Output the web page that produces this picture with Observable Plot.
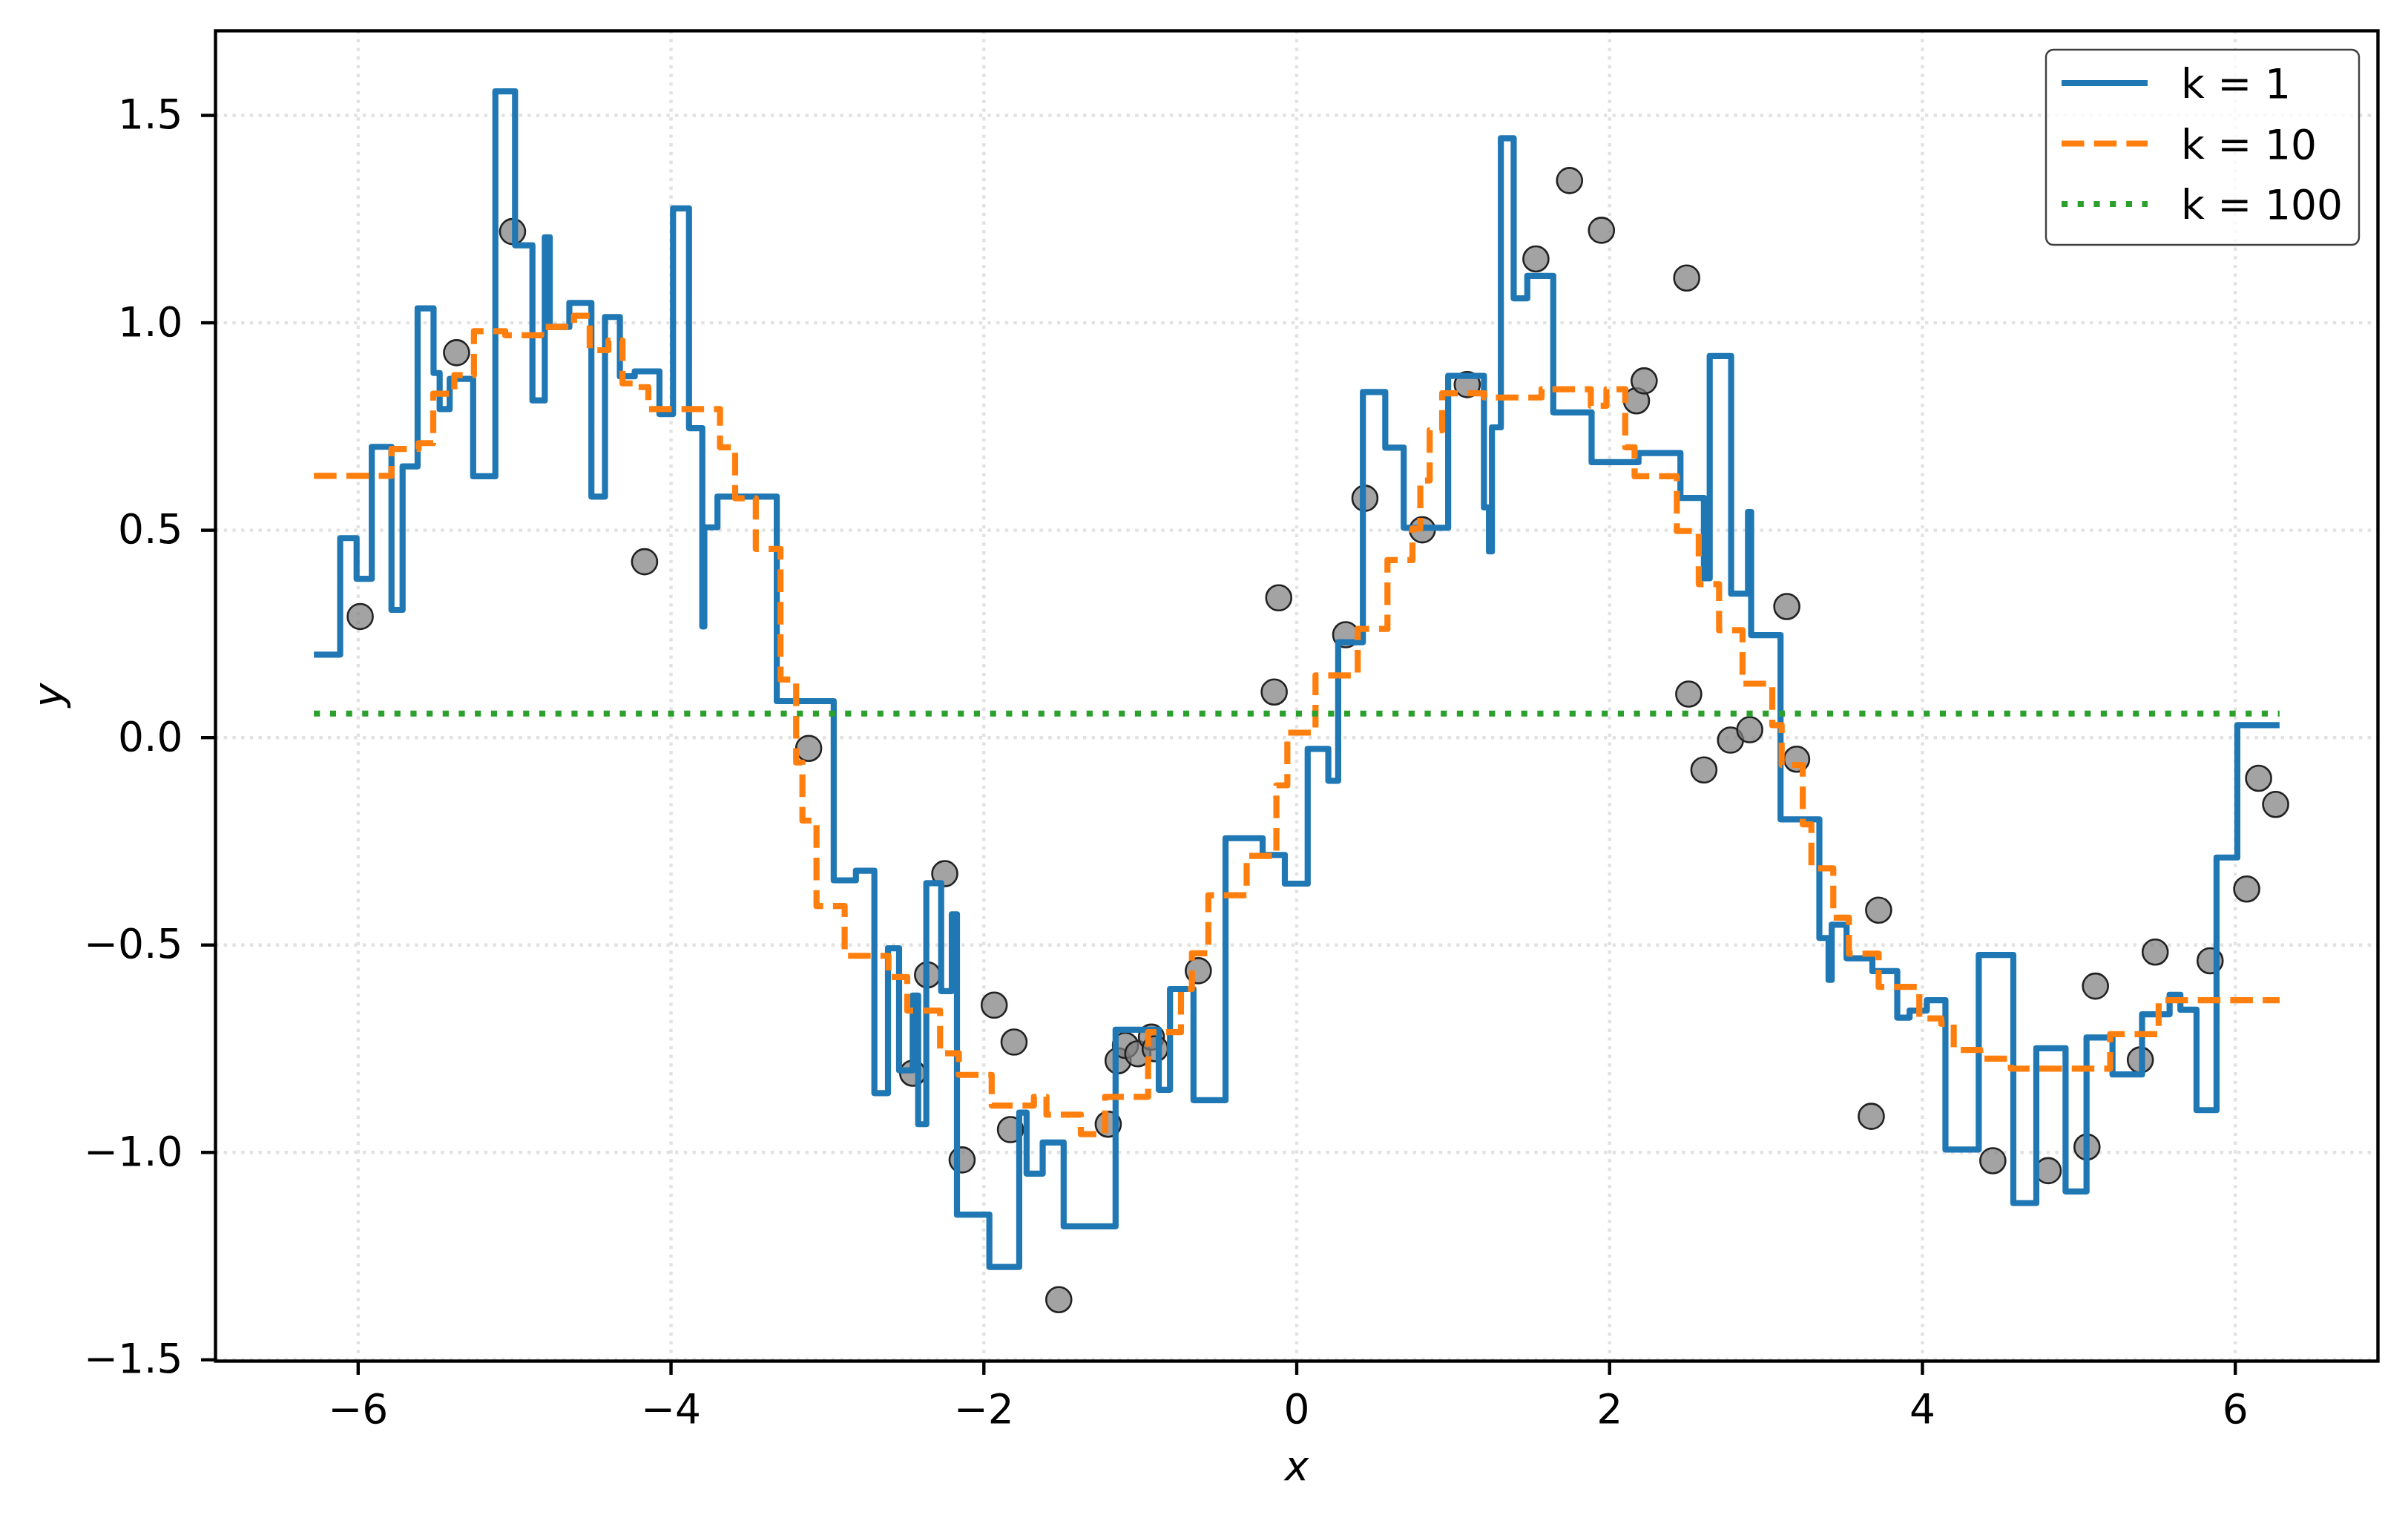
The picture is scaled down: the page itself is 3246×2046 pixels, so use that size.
<!DOCTYPE html>
<html>
<head>
<meta charset="utf-8">
<script src="https://cdn.jsdelivr.net/npm/d3@7"></script>
<script src="https://cdn.jsdelivr.net/npm/@observablehq/plot@0.6"></script>
<style>
  html, body { margin: 0; padding: 0; background: #fff; }
  #chart svg { display: block; }
</style>
</head>
<body>
<div id="chart"></div>
<script>
// ---- data ----
const xTicks = [-6, -4, -2, 0, 2, 4, 6];
const yTicks = [-1.5, -1.0, -0.5, 0.0, 0.5, 1.0, 1.5];
const xEnd = 6.283;

// training points [x, y]
const points = [
  [-5.987,0.292],[-5.371,0.928],[-5.013,1.22],[-4.169,0.424],[-3.12,-0.026],
  [-2.455,-0.809],[-2.36,-0.572],[-2.25,-0.328],[-2.139,-1.018],[-1.934,-0.645],
  [-1.807,-0.734],[-1.83,-0.945],[-1.521,-1.355],[-1.205,-0.932],[-1.142,-0.779],
  [-1.095,-0.742],[-1.016,-0.762],[-0.929,-0.722],[-0.905,-0.75],[-0.629,-0.562],
  [-0.144,0.11],[-0.115,0.337],[0.313,0.248],[0.436,0.577],[0.803,0.501],
  [1.09,0.851],[1.529,1.154],[1.744,1.343],[1.948,1.223],[2.172,0.812],
  [2.221,0.86],[2.493,1.108],[2.506,0.105],[2.603,-0.078],[2.773,-0.006],
  [2.896,0.019],[3.133,0.316],[3.196,-0.052],[3.673,-0.913],[3.72,-0.416],
  [4.45,-1.02],[4.804,-1.044],[5.052,-0.987],[5.106,-0.599],[5.393,-0.777],
  [5.488,-0.517],[5.839,-0.538],[6.073,-0.365],[6.149,-0.098],[6.258,-0.161]
];

// k = 1 prediction: [x where the step starts, value]
const k1Steps = [
  [-6.283,0.20],[-6.115,0.481],[-6.01,0.383],[-5.913,0.701],[-5.787,0.308],
  [-5.716,0.654],[-5.62,1.035],[-5.518,0.879],[-5.479,0.792],[-5.415,0.865],
  [-5.265,0.63],[-5.123,1.558],[-4.997,1.187],[-4.886,0.813],[-4.807,1.206],
  [-4.775,0.99],[-4.65,1.048],[-4.509,0.581],[-4.422,1.014],[-4.327,0.871],
  [-4.232,0.883],[-4.074,0.78],[-3.987,1.276],[-3.885,0.746],[-3.80,0.268],
  [-3.787,0.507],[-3.703,0.581],[-3.324,0.088],[-2.96,-0.344],[-2.818,-0.321],
  [-2.70,-0.857],[-2.613,-0.508],[-2.542,-0.802],[-2.455,-0.622],[-2.42,-0.932],
  [-2.368,-0.351],[-2.273,-0.611],[-2.205,-0.426],[-2.172,-1.15],[-1.965,-1.276],
  [-1.774,-0.904],[-1.727,-1.051],[-1.624,-0.976],[-1.49,-1.178],[-1.158,-0.704],
  [-0.882,-0.849],[-0.81,-0.606],[-0.66,-0.874],[-0.455,-0.2425],[-0.218,-0.283],
  [-0.076,-0.352],[0.07,-0.027],[0.202,-0.104],[0.265,0.23],[0.423,0.833],
  [0.566,0.699],[0.684,0.506],[0.968,0.872],[1.197,0.555],[1.229,0.449],
  [1.248,0.748],[1.305,1.445],[1.387,1.059],[1.474,1.113],[1.64,0.784],
  [1.885,0.664],[2.185,0.686],[2.453,0.578],[2.603,0.384],[2.64,0.92],
  [2.777,0.347],[2.885,0.544],[2.905,0.247],[3.093,-0.197],[3.341,-0.483],
  [3.40,-0.584],[3.42,-0.451],[3.515,-0.532],[3.68,-0.563],[3.839,-0.675],
  [3.918,-0.658],[4.028,-0.633],[4.147,-0.993],[4.36,-0.524],[4.581,-1.122],
  [4.728,-0.749],[4.915,-1.094],[5.049,-0.723],[5.215,-0.812],[5.404,-0.667],
  [5.58,-0.62],[5.649,-0.656],[5.752,-0.898],[5.88,-0.289],[6.013,0.03]
];

// k = 10 prediction
const k10Steps = [
  [-6.283,0.631],[-5.787,0.696],[-5.613,0.71],[-5.52,0.829],[-5.385,0.874],
  [-5.26,0.98],[-5.06,0.97],[-4.83,0.99],[-4.62,1.017],[-4.52,0.934],
  [-4.40,0.957],[-4.31,0.854],[-4.21,0.845],[-4.145,0.792],[-3.687,0.70],
  [-3.59,0.577],[-3.458,0.455],[-3.30,0.14],[-3.20,-0.06],[-3.16,-0.2],
  [-3.07,-0.406],[-2.89,-0.526],[-2.61,-0.577],[-2.49,-0.658],[-2.28,-0.761],
  [-2.16,-0.813],[-1.95,-0.887],[-1.68,-0.866],[-1.60,-0.909],[-1.38,-0.956],
  [-1.225,-0.866],[-0.95,-0.71],[-0.74,-0.606],[-0.67,-0.52],[-0.565,-0.38],
  [-0.32,-0.285],[-0.13,-0.115],[-0.06,0.012],[0.12,0.15],[0.39,0.262],
  [0.58,0.428],[0.74,0.504],[0.79,0.62],[0.85,0.741],[0.93,0.83],[1.2,0.82],
  [1.565,0.84],[1.88,0.80],[1.98,0.84],[2.10,0.70],[2.16,0.63],
  [2.43,0.498],[2.57,0.37],[2.70,0.259],[2.85,0.13],[3.04,0.03],
  [3.10,-0.066],[3.235,-0.209],[3.29,-0.315],[3.43,-0.434],[3.53,-0.521],
  [3.72,-0.601],[3.98,-0.677],[4.12,-0.69],[4.20,-0.753],[4.37,-0.774],
  [4.565,-0.798],[5.20,-0.715],[5.51,-0.639],[5.55,-0.633]
];

// k = 100 prediction (constant)
const k100Steps = [[-6.283,0.058]];

const seriesNames = ["k = 1", "k = 10", "k = 100"];
const seriesColors = ["#1f77b4", "#ff7f0e", "#2ca02c"];

// ---- build step tables ----
function stepTable(steps) {
  const rows = steps.map(([x, y]) => ({x, y}));
  rows.push({x: xEnd, y: steps[steps.length - 1][1]});
  return rows;
}
const k1 = stepTable(k1Steps);
const k10 = stepTable(k10Steps);
const k100 = stepTable(k100Steps);
const pts = points.map(([x, y]) => ({x, y}));

const W = 3246, H = 2046;
const LW = 8.2;

const chart = Plot.plot({
  width: W,
  height: H,
  marginLeft: 290,
  marginRight: 41,
  marginTop: 41,
  marginBottom: 212,
  style: {fontFamily: "DejaVu Sans", background: "#fff", color: "#000"},
  x: {domain: [-6.912, 6.912], ticks: xTicks},
  y: {domain: [-1.503, 1.704], ticks: yTicks},
  marks: [
    Plot.gridX(xTicks, {stroke: "#e2e2e2", strokeOpacity: 1, strokeWidth: 4.4, strokeDasharray: "4.4,7.3"}),
    Plot.gridY(yTicks, {stroke: "#e2e2e2", strokeOpacity: 1, strokeWidth: 4.4, strokeDasharray: "4.4,7.3"}),
    Plot.dot(pts, {x: "x", y: "y", r: 17, fill: "#808080", fillOpacity: 0.72, stroke: "#222", strokeWidth: 2.6}),
    Plot.line(k1, {x: "x", y: "y", curve: "step-after", stroke: seriesColors[0], strokeWidth: LW, strokeLinejoin: "round", strokeLinecap: "butt"}),
    Plot.line(k10, {x: "x", y: "y", curve: "step-after", stroke: seriesColors[1], strokeWidth: LW, strokeDasharray: "30.5,13.2", strokeLinejoin: "round", strokeLinecap: "butt"}),
    Plot.line(k100, {x: "x", y: "y", curve: "step-after", stroke: seriesColors[2], strokeWidth: LW, strokeDasharray: "8.2,13.5", strokeLinecap: "butt"}),
    Plot.frame({stroke: "#000", strokeWidth: 4.4}),
    Plot.axisX(xTicks, {tickSize: 19, tickPadding: 25, fontSize: 55, strokeWidth: 4.4, label: null,
      tickFormat: d => d3.format("d")(d)}),
    Plot.axisY(yTicks, {tickSize: 19, tickPadding: 25, fontSize: 55, strokeWidth: 4.4, label: null,
      tickFormat: d => d3.format(".1f")(d)})
  ]
});

document.getElementById("chart").appendChild(chart);

// ---- axis labels & legend ----
const svg = d3.select(chart);
svg.append("text")
  .attr("x", 1748).attr("y", 1995)
  .attr("text-anchor", "middle")
  .attr("font-family", "DejaVu Sans").attr("font-style", "italic")
  .attr("font-size", 55).attr("fill", "#000")
  .text("x");
svg.append("text")
  .attr("transform", "translate(84,937) rotate(-90)")
  .attr("text-anchor", "middle")
  .attr("font-family", "DejaVu Sans").attr("font-style", "italic")
  .attr("font-size", 55).attr("fill", "#000")
  .text("y");

const lg = svg.append("g").attr("text-anchor", "start");
lg.append("rect")
  .attr("x", 2758).attr("y", 67).attr("width", 422).attr("height", 263)
  .attr("rx", 10).attr("ry", 10)
  .attr("fill", "#fff").attr("fill-opacity", 0.8)
  .attr("stroke", "#404040").attr("stroke-width", 2.4);
const dashes = [null, "30.5,13.2", "8.2,13.5"];
seriesNames.forEach((name, i) => {
  const cy = 112 + i * 81.5;
  lg.append("line")
    .attr("x1", 2779).attr("x2", 2895).attr("y1", cy).attr("y2", cy)
    .attr("stroke", seriesColors[i]).attr("stroke-width", LW)
    .attr("stroke-dasharray", dashes[i]);
  lg.append("text")
    .attr("x", 2940).attr("y", cy + 20)
    .attr("text-anchor", "start")
    .attr("font-family", "DejaVu Sans").attr("font-size", 55).attr("fill", "#000")
    .text(name);
});
</script>
</body>
</html>
